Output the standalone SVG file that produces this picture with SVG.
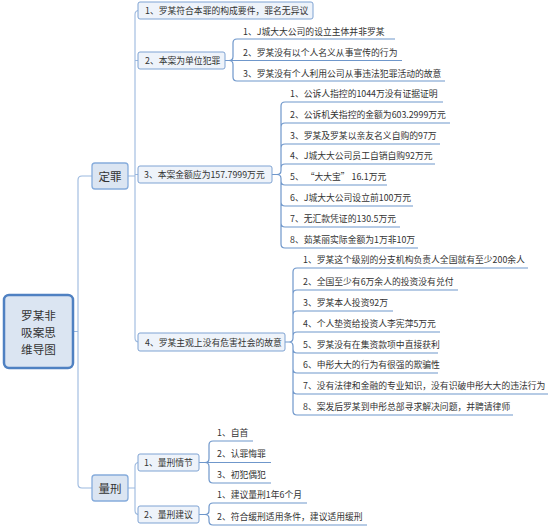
<svg xmlns="http://www.w3.org/2000/svg" width="560" height="530" viewBox="0 0 560 530">
<style>
text{font-family:"Noto Sans CJK SC","Microsoft YaHei",sans-serif;fill:#333;dominant-baseline:central}
.leaf{font-size:8.8px}
.box{fill:#eef3fa;stroke:#7fa3d3;stroke-width:1}
.main{fill:#dbe5f2;stroke:#86acdc;stroke-width:1.3}
.root{fill:#dbe5f2;stroke:#4f81c2;stroke-width:2.5}
.elb{fill:none;stroke:#9cb9df;stroke-width:1.1}
.br{fill:none;stroke:#6f97cb;stroke-width:1.2}
</style>
<rect width="560" height="530" fill="#fff"/>
<g id="connectors">
<path class="elb" d="M73,331.5 H78 M92,176 H82 Q78,176 78,180 V484 Q78,488 82,488 H92"/>
<path class="elb" d="M128,176 H135 M139,10.5 Q135,10.5 135,14.5 V338 Q135,342 139,342 M135,60.5 H138 M135,174.5 H138"/>
<path class="elb" d="M128,488 H135 M139,462.5 Q135,462.5 135,466.5 V510.5 Q135,514.5 139,514.5"/>
<path class="br" d="M225,60.5 H229 M229,60.5 Q233,60.5 233,56.5 V43 Q233,39 237,39 H395 M229,60.5 H402 M229,60.5 Q233,60.5 233,64.5 V77 Q233,81 237,81 H445"/>
<path class="br" d="M272,174.5 H277 M277,174.5 Q281,174.5 281,170.5 V106 Q281,102 285,102 H443 M281,127 Q281,123 285,123 H450 M281,148 Q281,144 285,144 H440 M281,168 Q281,164 285,164 H435 M277,174.5 Q281,174.5 281,178.5 V244 Q281,248 285,248 H418 M281,181 Q281,185 285,185 H387 M281,202 Q281,206 285,206 H413 M281,223 Q281,227 285,227 H400"/>
<path class="br" d="M285,342 H289 M289,342 Q293,342 293,338 V272 Q293,268 297,268 H528 M293,294 Q293,290 297,290 H458 M293,315 Q293,311 297,311 H393 M293,336 Q293,332 297,332 H440 M289,342 Q293,342 293,346 V411 Q293,415 297,415 H513 M293,349 Q293,353 297,353 H438 M293,369 Q293,373 297,373 H438 M293,390 Q293,394 297,394 H548"/>
<path class="br" d="M199,462.5 H205 M205,462.5 Q209,462.5 209,458.5 V445 Q209,441 213,441 H253 M205,462.5 H271 M205,462.5 Q209,462.5 209,466.5 V479 Q209,483 213,483 H271"/>
<path class="br" d="M199,514.5 H205 M205,514.5 Q209,514.5 209,510.5 V507 Q209,503 213,503 H307 M205,514.5 Q209,514.5 209,518.5 V521 Q209,525 213,525 H367"/>
</g>
<g id="root"><rect class="root" x="4" y="295" width="69" height="73" rx="5"/>
<text x="38.5" y="315" font-size="11.6" text-anchor="middle">罗某非</text>
<text x="38.5" y="332" font-size="11.6" text-anchor="middle">吸案思</text>
<text x="38.5" y="349" font-size="11.6" text-anchor="middle">维导图</text></g>
<g id="dingzui"><rect class="main" x="92" y="163" width="36" height="26" rx="3"/><text x="110" y="176" font-size="11.5" text-anchor="middle">定罪</text></g>
<g id="liangxing"><rect class="main" x="92" y="475" width="36" height="26" rx="3"/><text x="110" y="488" font-size="11.5" text-anchor="middle">量刑</text></g>
<g id="dz1"><rect class="box" x="138" y="2" width="175" height="17" rx="2"/><text class="leaf" x="145" y="10.5">1、罗某符合本罪的构成要件，罪名无异议</text></g>
<g id="dz2"><rect class="box" x="138" y="52" width="87" height="17" rx="2"/><text class="leaf" x="145" y="60.5">2、本案为单位犯罪</text></g>
<g id="dz3"><rect class="box" x="138" y="166" width="134" height="17" rx="2"/><text class="leaf" x="144" y="174.5">3、本案金额应为157.7999万元</text></g>
<g id="dz4"><rect class="box" x="138" y="333" width="147" height="18" rx="2"/><text class="leaf" x="145" y="342">4、罗某主观上没有危害社会的故意</text></g>
<g id="dz2c">
<text class="leaf" x="243" y="31">1、J城大大公司的设立主体并非罗某</text>
<text class="leaf" x="243" y="52">2、罗某没有以个人名义从事宣传的行为</text>
<text class="leaf" x="243" y="73">3、罗某没有个人利用公司从事违法犯罪活动的故意</text>
</g>
<g id="dz3c">
<text class="leaf" x="290" y="93.5">1、公诉人指控的1044万没有证据证明</text>
<text class="leaf" x="290" y="114.5">2、公诉机关指控的金额为603.2999万元</text>
<text class="leaf" x="290" y="135.5">3、罗某及罗某以亲友名义自购的97万</text>
<text class="leaf" x="290" y="155.5">4、J城大大公司员工自销自购92万元</text>
<text class="leaf" x="290" y="176.5">5、 “大大宝” 16.1万元</text>
<text class="leaf" x="290" y="197.5">6、J城大大公司设立前100万元</text>
<text class="leaf" x="290" y="218.5">7、无汇款凭证的130.5万元</text>
<text class="leaf" x="290" y="239.5">8、茹某丽实际金额为1万非10万</text>
</g>
<g id="dz4c">
<text class="leaf" x="303" y="259.5">1、罗某这个级别的分支机构负责人全国就有至少200余人</text>
<text class="leaf" x="303" y="281.5">2、全国至少有6万余人的投资没有兑付</text>
<text class="leaf" x="303" y="302.5">3、罗某本人投资92万</text>
<text class="leaf" x="303" y="323.5">4、个人垫资给投资人李宪萍5万元</text>
<text class="leaf" x="303" y="344.5">5、罗某没有在集资款项中直接获利</text>
<text class="leaf" x="303" y="364.5">6、申彤大大的行为有很强的欺骗性</text>
<text class="leaf" x="303" y="385.5">7、没有法律和金融的专业知识，没有识破申彤大大的违法行为</text>
<text class="leaf" x="303" y="406.5">8、案发后罗某到申彤总部寻求解决问题，并聘请律师</text>
</g>
<g id="lx1"><rect class="box" x="138" y="454" width="61" height="17" rx="2"/><text class="leaf" x="144" y="462.5">1、量刑情节</text></g>
<g id="lx2"><rect class="box" x="138" y="506" width="61" height="17" rx="2"/><text class="leaf" x="144" y="514.5">2、量刑建议</text></g>
<g id="lx1c">
<text class="leaf" x="217" y="432.5">1、自首</text>
<text class="leaf" x="217" y="453.5">2、认罪悔罪</text>
<text class="leaf" x="217" y="474.5">3、初犯偶犯</text>
</g>
<g id="lx2c">
<text class="leaf" x="217" y="494.5">1、建议量刑1年6个月</text>
<text class="leaf" x="217" y="516.5">2、符合缓刑适用条件，建议适用缓刑</text>
</g>
</svg>
